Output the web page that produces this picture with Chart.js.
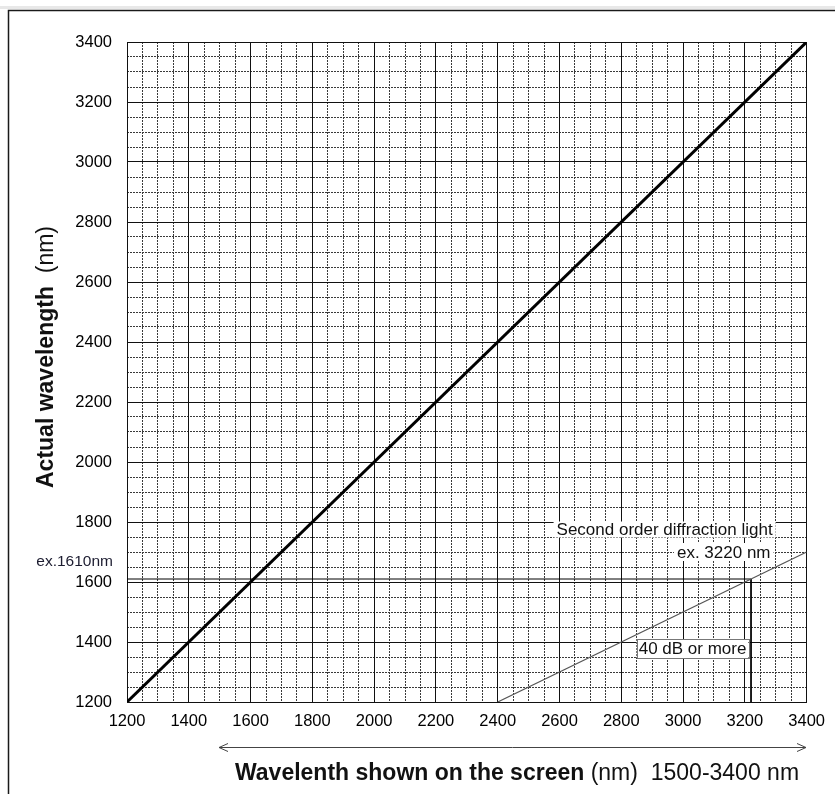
<!DOCTYPE html>
<html><head><meta charset="utf-8">
<script src="https://cdn.jsdelivr.net/npm/chart.js@4.4.1/dist/chart.umd.min.js"></script>
<style>html,body{margin:0;padding:0;background:#fff}canvas{display:block}</style>
</head><body>
<canvas id="c" width="835" height="794"></canvas>
<script>
// ---- data ----
const screenWavelength = [1200, 3400];          // x: wavelength shown on the screen
const actualWavelength = [1200, 3400];          // y: actual wavelength
const secondOrderScreen = [2400, 3400];         // second order diffraction light
const secondOrderActual = [1200, 1700];
const exampleScreen = [1200, 3220, 3220];       // ex. 1610 nm -> 3220 nm
const exampleActual = [1610, 1610, 1200];
const axisMin = 1200;
const axisMax = 3400;
const majorStep = 200;
const minorStep = 50;
const labelSecondOrder = 'Second order diffraction light';
const labelExample = 'ex. 3220 nm';
const labelSuppression = '40 dB or more';
const labelExampleActual = 'ex.1610nm';
const xTitleBold = 'Wavelenth shown on the screen';
const xTitleRegular = ' (nm)  1500-3400 nm';
const yTitleBold = 'Actual wavelength';
const yTitleRegular = '  (nm)';

const FONT = "'Liberation Sans', Arial, sans-serif";
Chart.defaults.font.family = FONT;
Chart.defaults.color = '#000';

const pts = (xs, ys) => xs.map((x, i) => ({x: x, y: ys[i]}));

function richText(ctx, parts, cx, cy) {
  let total = 0;
  parts.forEach(p => { ctx.font = p.font; p.w = ctx.measureText(p.text).width; total += p.w; });
  let x = cx - total / 2;
  ctx.textAlign = 'left';
  ctx.textBaseline = 'middle';
  parts.forEach(p => { ctx.font = p.font; ctx.fillText(p.text, x, cy); x += p.w; });
}

function labelBox(ctx, text, xRight, yMid, opts) {
  ctx.font = '17px ' + FONT;
  const w = ctx.measureText(text).width;
  const padX = opts.padX, h = opts.h;
  ctx.fillStyle = '#fff';
  ctx.fillRect(xRight - w - padX, yMid - h / 2, w + 2 * padX, h);
  if (opts.border) {
    ctx.strokeStyle = '#777';
    ctx.lineWidth = 1;
    ctx.strokeRect(Math.round(xRight - w - padX) + 0.5, Math.round(yMid - h / 2) + 0.5, Math.round(w + 2 * padX), Math.round(h));
  }
  ctx.fillStyle = '#111';
  ctx.textAlign = 'right';
  ctx.textBaseline = 'middle';
  ctx.fillText(text, xRight, yMid + 1);
}

const decor = {
  id: 'decor',
  beforeDraw(chart) {
    const ctx = chart.ctx;
    ctx.save();
    ctx.fillStyle = '#fff';
    ctx.fillRect(0, 0, chart.width, chart.height);
    ctx.fillStyle = '#e8e8e8';
    ctx.fillRect(0, 6, chart.width, 3);
    ctx.strokeStyle = '#1a1a1a';
    ctx.lineWidth = 1.5;
    ctx.beginPath();
    ctx.moveTo(8.5, chart.height);
    ctx.lineTo(8.5, 10.5);
    ctx.lineTo(chart.width, 10.5);
    ctx.stroke();
    ctx.restore();
  },
  afterDatasetsDraw(chart) {
    const ctx = chart.ctx;
    const xs = chart.scales.x, ys = chart.scales.y;
    ctx.save();
    // annotation boxes
    labelBox(ctx, labelSecondOrder, xs.getPixelForValue(3290), ys.getPixelForValue(1775), {padX: 3, h: 16});
    labelBox(ctx, labelExample, xs.getPixelForValue(3283), ys.getPixelForValue(1700), {padX: 3, h: 18});
    labelBox(ctx, labelSuppression, xs.getPixelForValue(3205), ys.getPixelForValue(1378), {padX: 2, h: 19, border: true});
    // ex.1610nm label
    ctx.font = '15.5px ' + FONT;
    ctx.fillStyle = '#1c1c30';
    ctx.textAlign = 'right';
    ctx.textBaseline = 'middle';
    ctx.fillText(labelExampleActual, 113, ys.getPixelForValue(1667));
    // double arrow
    const ay = 747.5, ax1 = 219, ax2 = 806;
    ctx.strokeStyle = '#444';
    ctx.lineWidth = 1;
    ctx.beginPath();
    ctx.moveTo(ax1, ay); ctx.lineTo(ax2, ay);
    ctx.moveTo(ax1 + 9, ay - 4); ctx.lineTo(ax1, ay); ctx.lineTo(ax1 + 9, ay + 4);
    ctx.moveTo(ax2 - 9, ay - 4); ctx.lineTo(ax2, ay); ctx.lineTo(ax2 - 9, ay + 4);
    ctx.stroke();
    // axis titles
    ctx.fillStyle = '#111';
    richText(ctx, [
      {text: xTitleBold, font: 'bold 23px ' + FONT},
      {text: xTitleRegular, font: '23px ' + FONT}
    ], 517, 774);
    ctx.translate(47, 357);
    ctx.rotate(-Math.PI / 2);
    richText(ctx, [
      {text: yTitleBold, font: 'bold 23px ' + FONT},
      {text: yTitleRegular, font: '23px ' + FONT}
    ], 0, 0);
    ctx.restore();
  }
};

const majorGrid = {color: '#111', lineWidth: 1, drawTicks: false, z: -1};
const minorGrid = {color: '#3a3a3a', lineWidth: 1, drawTicks: false, z: -2};

new Chart(document.getElementById('c'), {
  type: 'scatter',
  data: {
    datasets: [
      {data: pts(screenWavelength, actualWavelength), showLine: true, borderColor: '#000', borderWidth: 3, pointRadius: 0},
      {data: pts(secondOrderScreen, secondOrderActual), showLine: true, borderColor: '#555', borderWidth: 1.2, pointRadius: 0},
      {data: pts(exampleScreen, exampleActual), showLine: true, borderColor: '#000', borderWidth: 1, pointRadius: 0}
    ]
  },
  options: {
    responsive: false,
    animation: false,
    events: [],
    layout: {padding: {top: 42, right: 28, bottom: 0, left: 0}},
    plugins: {legend: {display: false}, tooltip: {enabled: false}},
    scales: {
      x: {
        type: 'linear', position: 'bottom', min: axisMin, max: axisMax,
        ticks: {stepSize: majorStep, padding: 10, color: '#000', font: {size: 16.5}, maxRotation: 0, autoSkip: false, callback: v => String(v)},
        grid: majorGrid,
        border: {color: '#111', width: 1},
        afterFit(s) { s.height = 92; }
      },
      xMinor: {
        type: 'linear', position: 'bottom', min: axisMin, max: axisMax,
        ticks: {display: false, stepSize: minorStep},
        grid: minorGrid,
        border: {display: false, dash: [2, 1]},
        afterFit(s) { s.height = 0; }
      },
      y: {
        type: 'linear', position: 'left', min: axisMin, max: axisMax,
        ticks: {stepSize: majorStep, padding: 15, color: '#000', font: {size: 16.5}, autoSkip: false, callback: v => String(v)},
        grid: majorGrid,
        border: {color: '#111', width: 1},
        afterFit(s) { s.width = 127; }
      },
      yMinor: {
        type: 'linear', position: 'left', min: axisMin, max: axisMax,
        ticks: {display: false, stepSize: minorStep},
        grid: minorGrid,
        border: {display: false, dash: [2, 1]},
        afterFit(s) { s.width = 0; }
      }
    }
  },
  plugins: [decor]
});
</script>
</body></html>
